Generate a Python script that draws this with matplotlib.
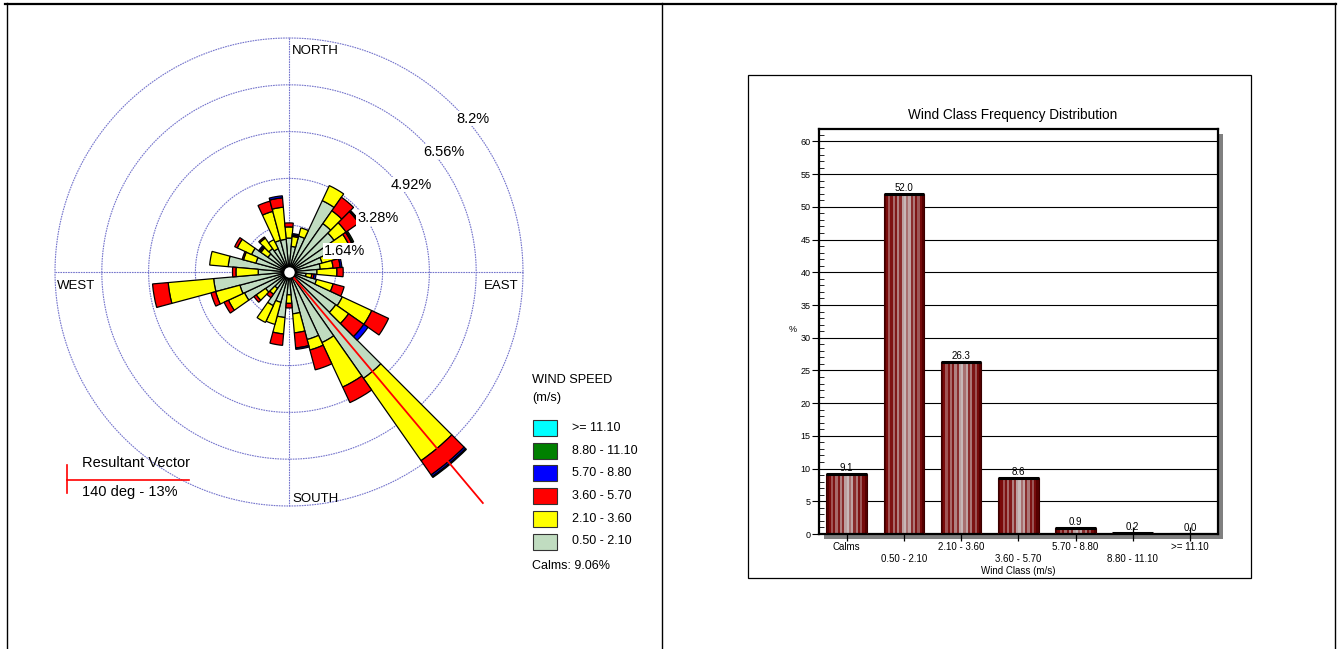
import numpy as np
import matplotlib
matplotlib.use("Agg")
import matplotlib.pyplot as plt
from matplotlib.patches import Rectangle
from matplotlib.lines import Line2D
from matplotlib.transforms import Affine2D

plt.rcParams['font.family'] = ['Liberation Sans', 'DejaVu Sans']

W, H, DPI = 1341, 649, 100

# ---------------- wind rose data (percent of hours, 10-degree sectors) ----------------
directions = np.arange(0, 360, 10)
calm_pct = 9.06
speed_labels = ['>= 11.10', '8.80 - 11.10', '5.70 - 8.80', '3.60 - 5.70', '2.10 - 3.60', '0.50 - 2.10']
speed_colors = ['#00ffff', '#008000', '#0000ff', '#ff0000', '#ffff00', '#c0dcc0']

pct_050_210 = [1.19, 0.90, 1.30, 2.76, 2.07, 1.93, 1.60, 1.20, 1.10, 0.98, 0.60, 1.00,
               2.06, 2.00, 4.55, 2.73, 2.45, 1.47, 0.80, 1.60, 1.10, 1.30, 0.70, 1.00,
               1.72, 1.78, 2.65, 1.08, 2.14, 1.20, 1.45, 0.90, 1.00, 0.90, 1.15, 1.15]
pct_210_360 = [0.39, 0.35, 0.30, 0.58, 0.55, 0.51, 0.70, 0.50, 0.45, 0.70, 0.20, 0.60,
               1.14, 0.55, 3.52, 1.72, 0.38, 0.67, 0.30, 0.58, 0.80, 0.65, 0.25, 0.40,
               0.62, 0.88, 1.60, 0.78, 0.65, 0.45, 0.55, 0.30, 0.45, 0.35, 1.05, 1.13]
pct_360_570 = [0.14, 0.05, 0.00, 0.00, 0.58, 0.55, 0.12, 0.20, 0.25, 0.22, 0.08, 0.40,
               0.65, 0.65, 0.61, 0.60, 0.72, 0.53, 0.16, 0.40, 0.00, 0.00, 0.15, 0.10,
               0.17, 0.17, 0.55, 0.12, 0.00, 0.05, 0.10, 0.05, 0.05, 0.00, 0.37, 0.33]
pct_570_880 = [0.00, 0.05, 0.00, 0.00, 0.00, 0.03, 0.03, 0.05, 0.06, 0.00, 0.07, 0.00,
               0.00, 0.18, 0.07, 0.00, 0.00, 0.05, 0.00, 0.00, 0.00, 0.00, 0.00, 0.00,
               0.00, 0.00, 0.00, 0.00, 0.00, 0.00, 0.00, 0.05, 0.00, 0.00, 0.00, 0.07]
pct_880_1110 = [0.00, 0.00, 0.00, 0.00, 0.00, 0.03, 0.05, 0.00, 0.00, 0.00, 0.00, 0.00,
                0.00, 0.00, 0.04, 0.00, 0.00, 0.00, 0.00, 0.00, 0.00, 0.00, 0.00, 0.00,
                0.00, 0.00, 0.00, 0.00, 0.00, 0.00, 0.00, 0.00, 0.00, 0.00, 0.00, 0.00]
pct_1110_up = [0.0] * 36

ring_levels = [1.64, 3.28, 4.92, 6.56, 8.2]
resultant_dir = 140
resultant_pct = 13

# ---------------- frequency distribution data ----------------
wind_classes = ['Calms', '0.50 - 2.10', '2.10 - 3.60', '3.60 - 5.70',
                '5.70 - 8.80', '8.80 - 11.10', '>= 11.10']
class_freq = [9.1, 52.0, 26.3, 8.6, 0.9, 0.2, 0.0]

fig = plt.figure(figsize=(W / DPI, H / DPI), dpi=DPI)
fig.patch.set_facecolor('white')

# pixel coordinates measured from the top-left corner of the figure
PX = Affine2D().scale(1.0 / W, -1.0 / H).translate(0, 1) + fig.transFigure

# ---------------- page frame ----------------
fig.add_artist(Line2D([5, 1336], [3.5, 3.5], transform=PX, color='black', lw=1.6))
for xv in (7, 662, 1335):
    fig.add_artist(Line2D([xv, xv], [3, 649], transform=PX, color='black', lw=1.0))

# ---------------- wind rose ----------------
cx, cy = 289, 272
px_per_pct = 234.0 / 8.2
R = 10.6  # clip radius of the rose panel, in percent
rad = R * px_per_pct
ax = fig.add_axes([(cx - rad) / W, (H - cy - rad) / H, 2 * rad / W, 2 * rad / H],
                  projection='polar')
ax.set_theta_zero_location('N')
ax.set_theta_direction(-1)
ax.set_ylim(0, R)
ax.set_axis_off()

ring_col = '#7474cc'
tt = np.linspace(0, 2 * np.pi, 1441)
for lv in ring_levels:
    ax.plot(tt, np.full_like(tt, lv), color=ring_col, lw=0.8, ls=(0, (1.5, 0.8)), zorder=1)
for ang in (0, 90, 180, 270):
    th = np.deg2rad(ang)
    ax.plot([th, th], [0, ring_levels[-1]], color=ring_col, lw=0.8, ls=(0, (1.5, 0.8)),
            zorder=1)

theta = np.deg2rad(directions)
sector = np.deg2rad(10)
base = np.zeros(len(directions))
stack = [(pct_050_210, '#c0dcc0'), (pct_210_360, '#ffff00'), (pct_360_570, '#ff0000'),
         (pct_570_880, '#0000ff'), (pct_880_1110, '#008000'), (pct_1110_up, '#00ffff')]
for vals, col in stack:
    vals = np.asarray(vals, dtype=float)
    m = vals > 0
    if m.any():
        ax.bar(theta[m], vals[m], width=sector, bottom=base[m], color=col,
               edgecolor='black', linewidth=0.9, zorder=3)
    base += vals

th_res = np.deg2rad(resultant_dir)
ax.plot([th_res, th_res], [0, resultant_pct], color='red', lw=1.3, zorder=4)
ax.plot([0], [0], 'o', ms=8.5, mfc='white', mec='black', mew=1.0, zorder=6)

for lv in ring_levels:
    lab = ('%.2f' % lv).rstrip('0').rstrip('.') + '%'
    ax.annotate(lab, (np.deg2rad(45), lv), xytext=(2, -16), textcoords='offset pixels',
                ha='left', va='baseline', fontsize=10.5, zorder=7,
                bbox=dict(boxstyle='square,pad=0.05', fc='white', ec='none'))

outer = ring_levels[-1]
ax.annotate('NORTH', (0, outer), xytext=(3, -16), textcoords='offset pixels',
            ha='left', va='baseline', fontsize=9.5)
ax.annotate('SOUTH', (np.pi, outer), xytext=(3, 4), textcoords='offset pixels',
            ha='left', va='baseline', fontsize=9.5)
ax.annotate('WEST', (1.5 * np.pi, outer), xytext=(2, -17), textcoords='offset pixels',
            ha='left', va='baseline', fontsize=9.5)
ax.annotate('EAST', (0.5 * np.pi, outer), xytext=(-4, -17), textcoords='offset pixels',
            ha='right', va='baseline', fontsize=9.5)

# resultant vector key
fig.add_artist(Line2D([67.5, 67.5], [465, 493], transform=PX, color='red', lw=1.2))
fig.add_artist(Line2D([67.5, 189], [479.5, 479.5], transform=PX, color='red', lw=1.2))
fig.text(82, 463, 'Resultant Vector', transform=PX, ha='left', va='center', fontsize=10.5)
fig.text(82, 492, '%d deg - %d%%' % (resultant_dir, resultant_pct), transform=PX,
         ha='left', va='center', fontsize=10.5)

# speed legend
fig.text(532, 380, 'WIND SPEED', transform=PX, ha='left', va='center', fontsize=9.2)
fig.text(532, 398, '(m/s)', transform=PX, ha='left', va='center', fontsize=9.2)
for i, (lab, col) in enumerate(zip(speed_labels, speed_colors)):
    yc = 428 + i * 22.7
    fig.add_artist(Rectangle((533, yc - 8), 24, 16, transform=PX, fc=col,
                             ec='#333333', lw=0.8))
    fig.text(572, yc, lab, transform=PX, ha='left', va='center', fontsize=9)
fig.text(532, 566, 'Calms: %.2f%%' % calm_pct, transform=PX, ha='left', va='center',
         fontsize=9)

# ---------------- frequency distribution chart ----------------
fig.add_artist(Rectangle((748, 75), 503, 503, transform=PX, fill=False, ec='black', lw=0.9))
fig.add_artist(Rectangle((824, 134), 399, 405, transform=PX, fc='#808080', ec='none',
                         zorder=-1))
fig.text(1012.5, 115, 'Wind Class Frequency Distribution', transform=PX, ha='center',
         va='center', fontsize=9.8)
fig.text(793, 330, '%', transform=PX, ha='center', va='center', fontsize=6.5)
fig.text(1018, 571, 'Wind Class (m/s)', transform=PX, ha='center', va='center', fontsize=7)

axb = fig.add_axes([819 / W, 1 - 534 / H, 399 / W, 405 / H])
axb.set_facecolor('white')
xpos = np.arange(len(wind_classes))
bw = 0.71
# vertical stripes giving the bars their shaded, cylindrical look
stripes = ['#560000', '#7a0a0a', '#a05454', '#7e1212', '#a86a6a', '#801818',
           '#b08080', '#8a2c2c', '#bca0a0', '#c8b8b8', '#a87070', '#c0a4a4',
           '#8a2c2c', '#ac7878', '#7e1414', '#9c5656', '#760a0a', '#560000']
sw = bw / len(stripes)
for k, c in enumerate(stripes):
    axb.bar(xpos - bw / 2 + (k + 0.5) * sw, class_freq, width=sw * 1.02, color=c,
            lw=0, zorder=2)
axb.bar(xpos, class_freq, width=bw, fill=False, edgecolor='#3a0000', lw=0.8, zorder=3)
axb.hlines(class_freq, xpos - bw / 2, xpos + bw / 2, color='black', lw=2.2, zorder=4)
for i, v in enumerate(class_freq):
    axb.annotate('%.1f' % v, (i, v), xytext=(0, 1), textcoords='offset pixels',
                 ha='center', va='bottom', fontsize=7, zorder=5)

axb.set_xlim(-0.484, 6.489)
axb.set_ylim(0, 61.9)
axb.set_yticks(np.arange(0, 61, 5))
axb.set_yticks(np.arange(0, 62, 1), minor=True)
axb.yaxis.grid(True, which='major', color='black', lw=0.8)
axb.set_axisbelow(True)
axb.set_xticks(xpos)
axb.set_xticklabels([lab if i % 2 == 0 else '\n' + lab for i, lab in enumerate(wind_classes)])
axb.tick_params(axis='x', direction='inout', length=10, width=0.9, labelsize=7, pad=1)
axb.tick_params(axis='y', which='major', direction='out', length=5, width=0.8,
                labelsize=6.5, pad=1)
axb.tick_params(axis='y', which='minor', direction='in', length=3.5, width=0.6)
for s in axb.spines.values():
    s.set_linewidth(1.6)

fig.savefig('out.png', dpi=DPI)
